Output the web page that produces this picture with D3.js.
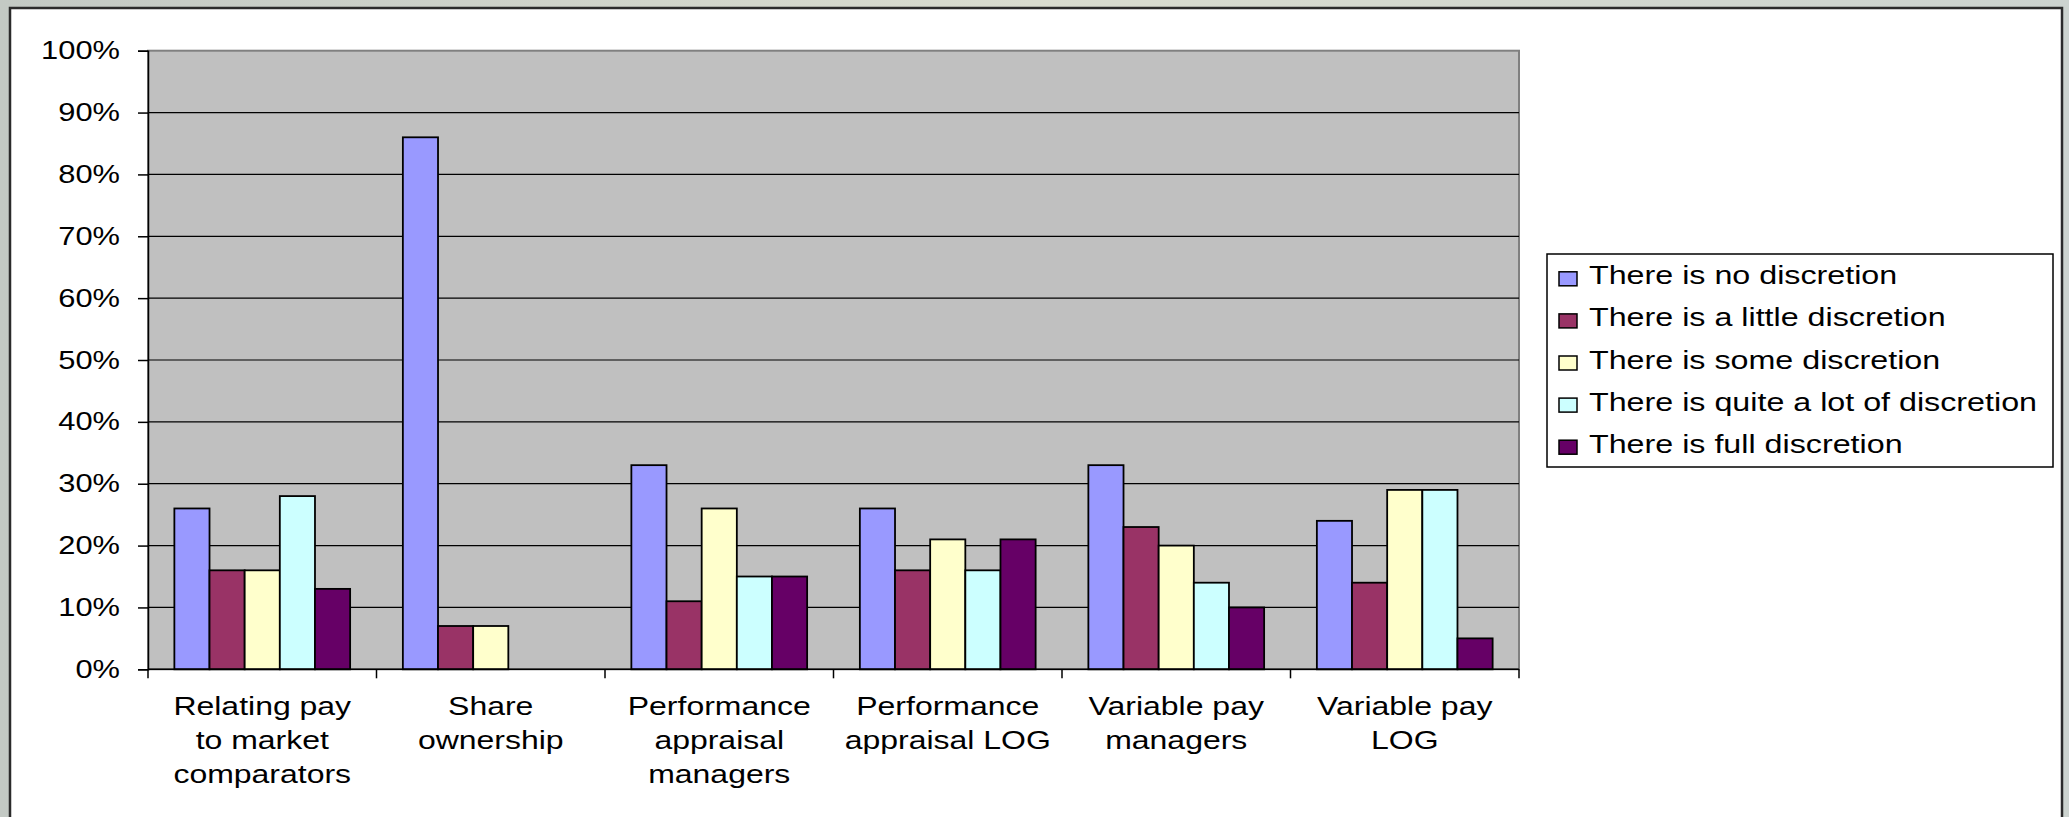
<!DOCTYPE html>
<html>
<head>
<meta charset="utf-8">
<script src="https://cdn.jsdelivr.net/npm/d3@7"></script>
<style>
  html, body { margin: 0; padding: 0; overflow: hidden; }
  svg { display: block; }
  text { font-family: "Liberation Sans", Arial, sans-serif; fill: #000; }
</style>
</head>
<body>
<svg id="chart" width="2069" height="817"></svg>
<script>
// Pay-practice categories (x axis)
const categories = [
  ["Relating pay", "to market", "comparators"],
  ["Share", "ownership"],
  ["Performance", "appraisal", "managers"],
  ["Performance", "appraisal LOG"],
  ["Variable pay", "managers"],
  ["Variable pay", "LOG"]
];
const categoryKeys = categories.map(c => c.join(" "));

// Discretion levels (series)
const seriesNames = [
  "There is no discretion",
  "There is a little discretion",
  "There is some discretion",
  "There is quite a lot of discretion",
  "There is full discretion"
];
const seriesColors = ["#9999FF", "#993366", "#FFFFCC", "#CCFFFF", "#660066"];

// Share of respondents (%) per series, one value per category
const noDiscretion      = [26, 86, 33, 26, 33, 24];
const littleDiscretion  = [16,  7, 11, 16, 23, 14];
const someDiscretion    = [16,  7, 26, 21, 20, 29];
const quiteALot         = [28,  0, 15, 16, 14, 29];
const fullDiscretion    = [13,  0, 15, 21, 10,  5];
const seriesValues = [noDiscretion, littleDiscretion, someDiscretion, quiteALot, fullDiscretion];

// Y axis ticks
const yTicks = [0, 10, 20, 30, 40, 50, 60, 70, 80, 90, 100];

const svg = d3.select("#chart");

// Slide backdrop around the chart frame
const defs = svg.append("defs");
const bg = defs.append("linearGradient").attr("id", "bg").attr("x1", 0).attr("y1", 0).attr("x2", 1).attr("y2", 0);
bg.append("stop").attr("offset", "0%").attr("stop-color", "#c3c9c4");
bg.append("stop").attr("offset", "50%").attr("stop-color", "#d9dccf");
bg.append("stop").attr("offset", "100%").attr("stop-color", "#ccd3cf");
svg.append("rect").attr("width", 2069).attr("height", 817).attr("fill", "url(#bg)");

// Chart area (white, framed)
svg.append("rect")
  .attr("x", 10).attr("y", 8).attr("width", 2052).attr("height", 830)
  .attr("fill", "#ffffff").attr("stroke", "#2b2b2b").attr("stroke-width", 2.5);

// Plot area
const plot = { left: 148, right: 1519, top: 50.7, bottom: 669.3 };

const x0 = d3.scaleBand().domain(categoryKeys).range([plot.left, plot.right]).paddingInner(0).paddingOuter(0);
const x1 = d3.scaleBand().domain(seriesNames).range([0, x0.bandwidth()]).paddingInner(0).paddingOuter(0.75);
const y = d3.scaleLinear().domain([0, 100]).range([plot.bottom, plot.top]);

svg.append("rect")
  .attr("x", plot.left).attr("y", plot.top)
  .attr("width", plot.right - plot.left).attr("height", plot.bottom - plot.top)
  .attr("fill", "#c0c0c0").attr("stroke", "#808080").attr("stroke-width", 2);

// Horizontal gridlines
svg.append("g").selectAll("line")
  .data(yTicks.filter(t => t > 0 && t < 100))
  .join("line")
  .attr("x1", plot.left).attr("x2", plot.right)
  .attr("y1", d => y(d)).attr("y2", d => y(d))
  .attr("stroke", "#000").attr("stroke-width", 1.2);

// Y axis
const yAxis = d3.axisLeft(y).tickValues(yTicks).tickSize(10).tickFormat(d => d + "%");
const gy = svg.append("g").attr("transform", `translate(${plot.left},0)`).call(yAxis);
gy.select(".domain").attr("stroke", "#000").attr("stroke-width", 1.5);
gy.selectAll(".tick line").attr("stroke", "#000").attr("stroke-width", 1.5);
gy.selectAll(".tick text").remove();
gy.selectAll(".tick").append("text")
  .attr("text-anchor", "end")
  .attr("font-size", "25.5px")
  .attr("transform", "translate(-28,8) scale(1.21,1)")
  .text(d => d + "%");

// Bars
const groups = svg.append("g").selectAll("g")
  .data(categoryKeys)
  .join("g")
  .attr("transform", d => `translate(${x0(d)},0)`);

groups.selectAll("rect")
  .data((d, ci) => seriesNames.map((s, si) => ({ s, si, v: seriesValues[si][ci] })).filter(o => o.v > 0))
  .join("rect")
  .attr("x", d => x1(d.s))
  .attr("y", d => y(d.v))
  .attr("width", x1.bandwidth())
  .attr("height", d => y(0) - y(d.v))
  .attr("fill", d => seriesColors[d.si])
  .attr("stroke", "#000").attr("stroke-width", 1.8);

// X axis (category boundary ticks)
const boundaries = d3.range(categoryKeys.length + 1).map(i => plot.left + i * x0.step());
svg.append("line")
  .attr("x1", plot.left).attr("x2", plot.right)
  .attr("y1", plot.bottom).attr("y2", plot.bottom)
  .attr("stroke", "#000").attr("stroke-width", 1.5);
svg.append("g").selectAll("line")
  .data(boundaries)
  .join("line")
  .attr("x1", d => d).attr("x2", d => d)
  .attr("y1", plot.bottom).attr("y2", plot.bottom + 9)
  .attr("stroke", "#000").attr("stroke-width", 1.5);

// Category labels
const labels = svg.append("g").selectAll("g")
  .data(categories)
  .join("g")
  .attr("transform", (d, i) => `translate(${x0(categoryKeys[i]) + x0.bandwidth() / 2},715)`);
labels.selectAll("text")
  .data(d => d)
  .join("text")
  .attr("text-anchor", "middle")
  .attr("font-size", "26px")
  .attr("transform", (d, i) => `translate(0,${i * 34}) scale(1.23,1)`)
  .text(d => d);

// Legend
const legend = svg.append("g");
legend.append("rect")
  .attr("x", 1547).attr("y", 254).attr("width", 506).attr("height", 213)
  .attr("fill", "#fff").attr("stroke", "#000").attr("stroke-width", 1.5);
const items = legend.selectAll("g.item")
  .data(seriesNames)
  .join("g").attr("class", "item")
  .attr("transform", (d, i) => `translate(1559,${284.3 + i * 42.1})`);
items.append("rect")
  .attr("x", 0).attr("y", -12.5).attr("width", 18).attr("height", 14)
  .attr("fill", (d, i) => seriesColors[i]).attr("stroke", "#000").attr("stroke-width", 1.5);
items.append("text")
  .attr("font-size", "25px")
  .attr("transform", "translate(30,0) scale(1.29,1)")
  .text(d => d);
</script>
</body>
</html>
